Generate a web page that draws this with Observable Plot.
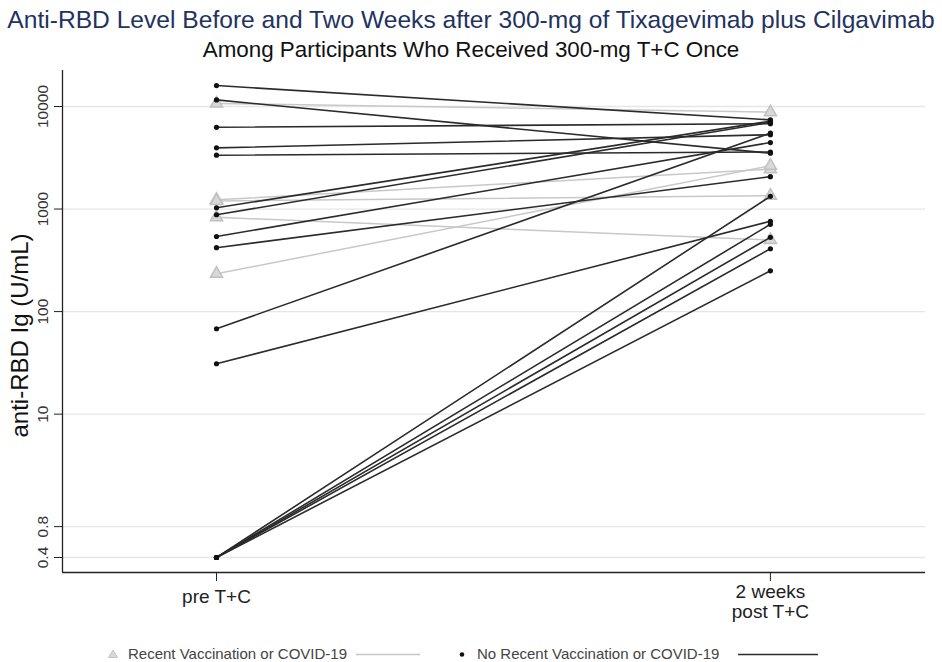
<!DOCTYPE html>
<html><head><meta charset="utf-8">
<script src="https://cdn.jsdelivr.net/npm/d3@7"></script>
<script src="https://cdn.jsdelivr.net/npm/@observablehq/plot@0.6"></script>
<style>
body{margin:0;background:#fff;font-family:"Liberation Sans",Arial,sans-serif;}
#wrap{position:relative;width:942px;height:662px;overflow:hidden;background:#fff}
.t{position:absolute;left:0;width:942px;text-align:center;white-space:nowrap;line-height:28px;z-index:2}
#t1{top:6px;color:#22335f;font-size:24.6px}
#t2{top:36px;color:#111;font-size:22.4px}
#chart{position:absolute;top:60px;left:0;z-index:1}
.lg{position:absolute;top:645px;font-size:15px;color:#444;line-height:18px;white-space:nowrap}
#lsvg{position:absolute;top:640px;left:0}
</style></head>
<body>
<div id="wrap">
  <div id="chart"></div>
  <div class="t" id="t1">Anti-RBD Level Before and Two Weeks after 300-mg of Tixagevimab plus Cilgavimab</div>
  <div class="t" id="t2">Among Participants Who Received 300-mg T+C Once</div>
  <svg id="lsvg" width="942" height="22">
    <path d="M113,10 L117.5,17.5 L108.5,17.5 Z" fill="#d8d8d8" stroke="#c4c4c4"/>
    <line x1="356" x2="420" y1="14.5" y2="14.5" stroke="#c8c8c8" stroke-width="1.3"/>
    <circle cx="462" cy="14.5" r="2.3" fill="#111"/>
    <line x1="738" x2="818" y1="14.5" y2="14.5" stroke="#2b2b2b" stroke-width="1.3"/>
  </svg>
  <div class="lg" style="left:128px">Recent Vaccination or COVID-19</div>
  <div class="lg" style="left:477px">No Recent Vaccination or COVID-19</div>
</div>
<script>
const timepoints = ["pre T+C", "2 weeks\npost T+C"];
const recentPre  = [10700, 1230, 1200, 830, 234];
const recentPost = [8800, 2450, 1350, 500, 2650];
const noRecentPre  = [16000, 11600, 6270, 3950, 3350, 1030, 880, 540, 420, 68, 31, 0.4, 0.4, 0.4, 0.4, 0.4];
const noRecentPost = [7400, 3500, 6800, 5300, 3600, 7200, 7000, 4450, 2070, 5500, 760, 1330, 710, 530, 410, 250];
const yTicks = [0.4, 0.8, 10, 100, 1000, 10000];
const yLabel = "anti-RBD Ig (U/mL)";

function toRows(pre, post, group) {
  const rows = [];
  pre.forEach((v, i) => {
    rows.push({id: group + i, t: 0, v});
    rows.push({id: group + i, t: 1, v: post[i]});
  });
  return rows;
}
const rowsRecent = toRows(recentPre, recentPost, "r");
const rowsNo = toRows(noRecentPre, noRecentPost, "n");
const xDomain = [-0.278, 1.28];
const yDomain = [0.2856, 22440];
const xLab = timepoints.map((label, t) => ({t, label}));

const chart = Plot.plot({
  width: 942, height: 580,
  marginLeft: 62, marginRight: 17, marginTop: 10, marginBottom: 68,
  x: {domain: xDomain, label: null},
  y: {type: "log", domain: yDomain, label: null},
  style: {fontFamily: "Liberation Sans, Arial, sans-serif", background: "transparent", color: "#222"},
  marks: [
    Plot.ruleY(yTicks, {stroke: "#e6e6e6", strokeWidth: 1.3}),
    Plot.axisY({ticks: yTicks, tickSize: 8, tickFormat: () => "", label: null, stroke: "#222"}),
    Plot.axisX({ticks: [0, 1], tickSize: 9, tickFormat: () => "", label: null, stroke: "#222"}),
    Plot.ruleX([xDomain[0]], {stroke: "#222", strokeWidth: 1.3}),
    Plot.ruleY([yDomain[0]], {stroke: "#222", strokeWidth: 1.3}),
    Plot.text(yTicks, {y: d => d, text: d => String(d), frameAnchor: "left", textAnchor: "middle", lineAnchor: "middle", dx: -19, rotate: -90, fontSize: 15.5, fill: "#333"}),
    Plot.text([yLabel], {text: d => d, frameAnchor: "left", textAnchor: "middle", lineAnchor: "middle", dx: -42, dy: 14, rotate: -90, fontSize: 24, fill: "#111"}),
    Plot.text(xLab.slice(0, 1), {x: "t", text: "label", frameAnchor: "bottom", textAnchor: "middle", lineAnchor: "middle", dy: 24, fontSize: 19, fill: "#222"}),
    Plot.text(xLab.slice(1), {x: "t", text: "label", frameAnchor: "bottom", textAnchor: "middle", lineAnchor: "middle", dy: 29, fontSize: 19, lineHeight: 1.05, fill: "#222"}),
    Plot.line(rowsRecent, {x: "t", y: "v", z: "id", stroke: "#c8c8c8", strokeWidth: 1.5}),
    Plot.dot(rowsRecent, {x: "t", y: "v", symbol: "triangle", r: 4.5, fill: "#d8d8d8", stroke: "#c0c0c0"}),
    Plot.line(rowsNo, {x: "t", y: "v", z: "id", stroke: "#2b2b2b", strokeWidth: 1.6}),
    Plot.dot(rowsNo, {x: "t", y: "v", r: 2.6, fill: "#111"})
  ]
});
document.getElementById("chart").append(chart);
</script>
</body></html>
